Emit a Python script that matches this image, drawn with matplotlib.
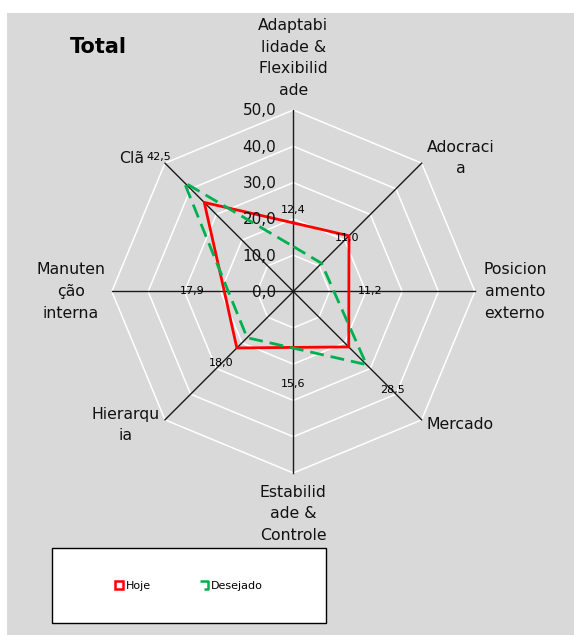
import numpy as np
import matplotlib
matplotlib.use("Agg")
import matplotlib.pyplot as plt
from matplotlib.lines import Line2D
from matplotlib.patches import Rectangle
from matplotlib.path import Path

# categorias (sentido horario, a partir do topo)
categorias = ["Adaptabi\nlidade &\nFlexibilid\nade", "Adocraci\na", "Posicion\namento\nexterno",
              "Mercado", "Estabilid\nade &\nControle", "Hierarqu\nia", "Manuten\nção\ninterna", "Clã"]
hoje = [18.9, 21.7, 15.3, 21.6, 15.4, 22.0, 19.0, 34.7]
desejado = [12.4, 11.0, 11.2, 28.5, 15.6, 18.0, 17.9, 42.5]
aneis = [0, 10, 20, 30, 40, 50]

def fmt(v):
    return f"{v:.1f}".replace(".", ",")

angulos = np.deg2rad(np.arange(len(categorias)) * 45)
ang_fechado = np.append(angulos, angulos[0])

fig = plt.figure(figsize=(5.74, 6.35), dpi=100)
fig.add_artist(Rectangle((7 / 574, 0), 1, 1 - 13 / 635, transform=fig.transFigure,
                         facecolor="#D9D9D9", edgecolor="none", zorder=0))

ax = fig.add_axes([0.1948, 0.2551, 0.6324, 0.5717], projection="polar")
ax.set_facecolor("none")
ax.set_theta_zero_location("N")
ax.set_theta_direction(-1)
ax.set_ylim(0, 50)
ax.grid(False)
ax.spines["polar"].set_visible(False)
ax.set_xticks([])
ax.set_yticks([])

# grade octogonal
for r in aneis[1:]:
    ax.plot(ang_fechado, [r] * len(ang_fechado), color="white", lw=1.1, zorder=1, clip_on=False)
for a in angulos:
    ax.plot([a, a], [0, 50], color="#1a1a1a", lw=1, zorder=2, clip_on=False)

# series
ax.plot(ang_fechado, hoje + [hoje[0]], color="#FF0000", lw=2, zorder=3, clip_on=False)
ax.plot(ang_fechado, desejado + [desejado[0]], color="#00B050", lw=2,
        ls=(0, (5, 2.5)), zorder=4, clip_on=False)

# rotulos dos dados (Desejado)
for a, v in zip(angulos, desejado):
    ax.text(a, v + 10, fmt(v), ha="center", va="center", fontsize=8, zorder=5)

# rotulos dos aneis
for r in aneis:
    ax.annotate(fmt(r), xy=(0, r), xytext=(-17, -1), textcoords="offset pixels",
                ha="right", va="center", fontsize=11, color="#111111", annotation_clip=False)

# rotulos das categorias
deslocamentos = [(0, 52), (39, 5), (40, 0), (38, -5), (0, -41), (-39, -5), (-41, 0), (-33, 5)]
for a, cat, off in zip(angulos, categorias, deslocamentos):
    ax.annotate(cat, xy=(a, 50), xytext=off, textcoords="offset pixels",
                ha="center", va="center", fontsize=11.3, linespacing=1.55,
                color="#111111", annotation_clip=False)

fig.text(70 / 574, 1 - 47 / 635, "Total", fontsize=15, fontweight="bold",
         ha="left", va="center")

# legenda
fig.add_artist(Rectangle((51.7 / 574, 1 - 622.7 / 635), (326 - 51.7) / 574, (622.7 - 548.3) / 635,
                         transform=fig.transFigure, facecolor="white", edgecolor="black",
                         lw=1, zorder=1))
gancho = Path([(-1, 1), (1, 1), (1, -1), (0.1, -1)],
              [Path.MOVETO, Path.LINETO, Path.LINETO, Path.LINETO])
h1 = Line2D([], [], ls="none", marker="s", ms=6, mfc="white", mec="#FF0000", mew=1.8)
h2 = Line2D([], [], ls="none", marker=gancho, ms=6, mfc="none", mec="#00B050", mew=1.8)
leg = fig.legend([h1, h2], ["Hoje", "Desejado"], loc="center",
                 bbox_to_anchor=(189 / 574, 1 - 586 / 635), ncol=2, frameon=False,
                 fontsize=8, handlelength=0.6, handletextpad=0.3, columnspacing=4.5)
leg.set_zorder(2)

fig.savefig("out.png", dpi=100)
